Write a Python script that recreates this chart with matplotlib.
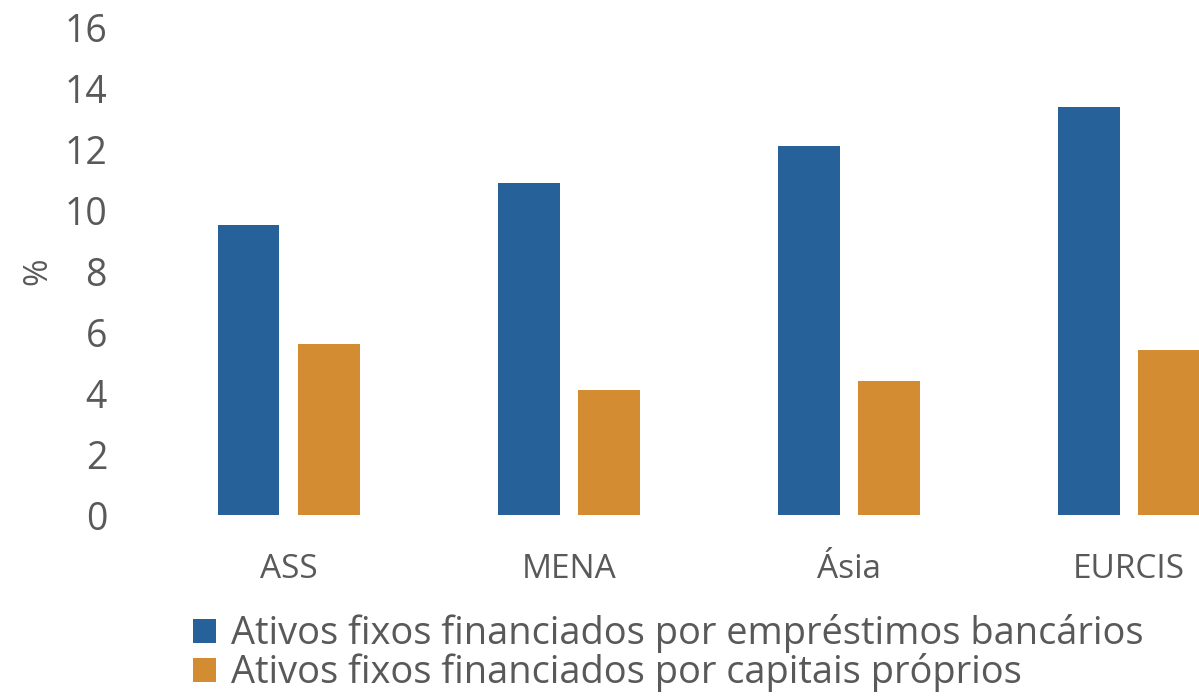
import matplotlib.pyplot as plt
import numpy as np

categories = ["ASS", "MENA", "Ásia", "EURCIS"]
bank_loans = [9.5, 10.9, 12.1, 13.4]
own_capital = [5.6, 4.1, 4.4, 5.4]
series_names = ["Ativos fixos financiados por empréstimos bancários",
                "Ativos fixos financiados por capitais próprios"]

blue = "#27619A"
orange = "#D38C32"
grey = "#595959"

plt.rcParams['font.family'] = ['Open Sans', 'DejaVu Sans']

fig = plt.figure(figsize=(11.99, 6.98), dpi=100)
# plot area runs off the right edge, as in the original crop
ax = fig.add_axes([0.124, 0.262, 0.876, 0.699])

x = np.arange(len(categories))
w = 0.22
ax.bar(x - 0.143, bank_loans, w, color=blue, label=series_names[0])
ax.bar(x + 0.143, own_capital, w, color=orange, label=series_names[1])

ax.set_xlim(-0.5, 3.25)
ax.set_ylim(0, 16)
ax.set_yticks(np.arange(0, 17, 2))
ax.set_xticks(x)
ax.set_xticklabels(categories)
ax.tick_params(axis='y', labelsize=27, colors=grey, length=0, pad=30)
ax.tick_params(axis='x', labelsize=24, colors=grey, length=0, pad=27)
for s in ax.spines.values():
    s.set_visible(False)
ax.set_ylabel("%", fontsize=24, color=grey)
ax.yaxis.set_label_coords(-0.090, 0.5)

leg = fig.legend(loc='upper left', bbox_to_anchor=(0.148, 0.142), frameon=False,
                 fontsize=27.4, handlelength=0.6, handleheight=0.6, handletextpad=0.4,
                 labelspacing=0.0, borderaxespad=0)
for t in leg.get_texts():
    t.set_color(grey)

fig.savefig("out.png", dpi=100)
